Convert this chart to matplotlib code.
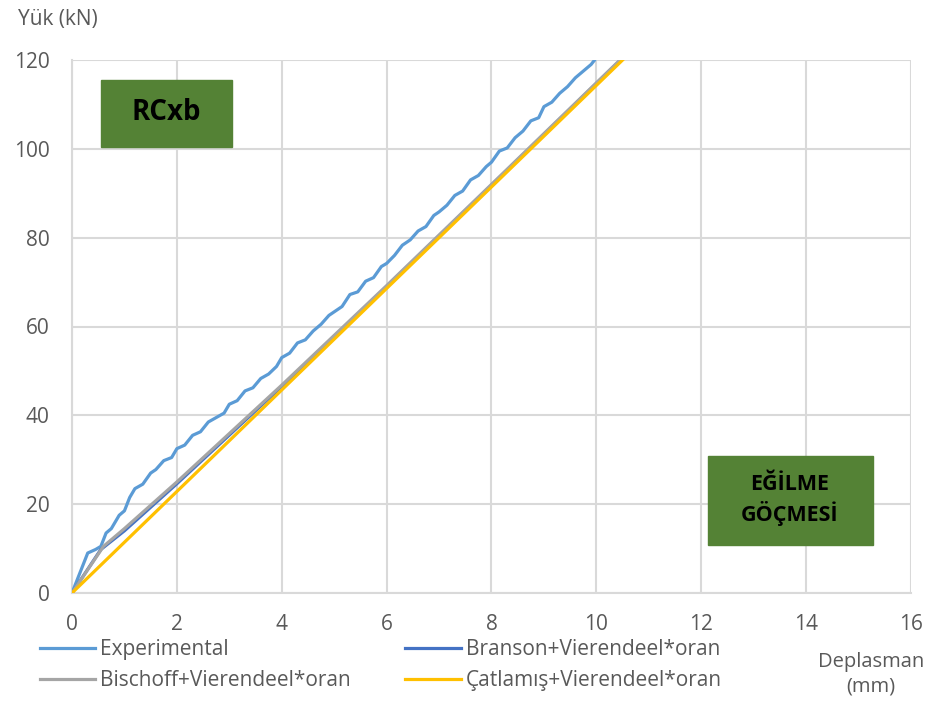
#!/usr/bin/env python3
"""Load-displacement curves for RCxb (experimental vs. stiffness models)."""

import matplotlib.pyplot as plt

# Experimental curve (displacement mm, load kN)
exp_x = [0.0, 0.15, 0.3, 0.45, 0.55, 0.65, 0.75, 0.9, 1.0, 1.1, 1.2, 1.35, 1.5, 1.6,
         1.75, 1.9, 2.0, 2.15, 2.3, 2.45, 2.6, 2.75, 2.9, 3.0, 3.15, 3.3, 3.45, 3.6,
         3.75, 3.9, 4.0, 4.15, 4.3, 4.45, 4.6, 4.75, 4.9, 5.0, 5.15, 5.3, 5.45, 5.6,
         5.75, 5.9, 6.0, 6.15, 6.3, 6.45, 6.6, 6.75, 6.9, 7.0, 7.15, 7.3, 7.45, 7.6,
         7.75, 7.9, 8.0, 8.15, 8.3, 8.45, 8.6, 8.75, 8.9, 9.0, 9.15, 9.3, 9.45, 9.6,
         9.75, 9.9, 10.0]
exp_y = [0.0, 4.5, 9.0, 9.8, 10.5, 13.5, 14.5, 17.5, 18.5, 21.5, 23.5, 24.5, 27.0,
         27.8, 29.8, 30.5, 32.5, 33.3, 35.5, 36.3, 38.5, 39.5, 40.5, 42.5, 43.3, 45.5,
         46.2, 48.3, 49.3, 51.0, 53.0, 54.0, 56.3, 57.0, 59.0, 60.5, 62.5, 63.3, 64.5,
         67.2, 67.8, 70.2, 71.0, 73.5, 74.2, 76.0, 78.3, 79.5, 81.5, 82.5, 85.0, 85.8,
         87.3, 89.5, 90.5, 93.0, 94.0, 96.0, 97.0, 99.5, 100.2, 102.5, 104.0, 106.3,
         107.0, 109.5, 110.5, 112.5, 114.0, 116.0, 117.5, 119.0, 120.5]

branson_x = [0.0, 0.55, 1.0, 2.0, 4.0, 6.0, 8.0, 10.46]
branson_y = [0.0, 9.8, 14.0, 24.6, 46.5, 69.0, 91.8, 120.0]

bischoff_x = [0.0, 0.6, 1.0, 2.0, 4.0, 6.0, 8.0, 10.45]
bischoff_y = [0.0, 10.5, 14.5, 25.0, 46.8, 69.2, 92.0, 120.0]

catlamis_x = [0.0, 10.5]
catlamis_y = [0.0, 120.0]

x_ticks = list(range(0, 17, 2))
y_ticks = list(range(0, 121, 20))

TEXT_GRAY = "#595959"
GRID_GRAY = "#d9d9d9"
FS = 15


def main() -> None:
    plt.rcParams["font.family"] = ["Open Sans", "DejaVu Sans"]

    fig = plt.figure(figsize=(9.29, 7.03), dpi=100)
    ax = fig.add_axes([72 / 929, 1 - 593 / 703, (911 - 72) / 929, (593 - 60) / 703])

    ax.plot(exp_x, exp_y, color="#5B9BD5", lw=2.3, label="Experimental", zorder=3)
    ax.plot(branson_x, branson_y, color="#4472C4", lw=2.3,
            label="Branson+Vierendeel*oran", zorder=4)
    ax.plot(bischoff_x, bischoff_y, color="#A5A5A5", lw=2.3,
            label="Bischoff+Vierendeel*oran", zorder=5)
    ax.plot(catlamis_x, catlamis_y, color="#FFC000", lw=2.3,
            label="Çatlamış+Vierendeel*oran", zorder=6)

    ax.set_xlim(0, 16)
    ax.set_ylim(0, 120)
    ax.set_xticks(x_ticks)
    ax.set_yticks(y_ticks)
    ax.tick_params(length=0, labelsize=FS, labelcolor=TEXT_GRAY)
    ax.tick_params(axis="x", pad=15)
    ax.tick_params(axis="y", pad=16)
    ax.grid(True, color=GRID_GRAY, lw=1.5)
    ax.set_axisbelow(True)
    for side in ["top", "right"]:
        ax.spines[side].set_visible(False)
    for side in ["left", "bottom"]:
        ax.spines[side].set_color(GRID_GRAY)
        ax.spines[side].set_linewidth(1.5)

    # axis titles placed like the spreadsheet chart
    fig.text(18 / 929, 1 - 20 / 703, "Yük (kN)", fontsize=FS, color=TEXT_GRAY,
             ha="left", va="center")
    fig.text(871 / 929, 1 - 674 / 703, "Deplasman\n(mm)", fontsize=14.5,
             color=TEXT_GRAY, ha="center", va="center", linespacing=1.3)

    # green annotation boxes
    fig.patches.append(plt.Rectangle((101 / 929, 1 - 147 / 703), 131 / 929, 67 / 703,
                                     transform=fig.transFigure, color="#548235",
                                     zorder=10))
    fig.text(166 / 929, 1 - 113 / 703, "RCxb", fontsize=20, fontweight="bold",
             ha="center", va="center", zorder=11)
    fig.patches.append(plt.Rectangle((708 / 929, 1 - 545 / 703), 165 / 929, 89 / 703,
                                     transform=fig.transFigure, color="#548235",
                                     zorder=10))
    fig.text(790 / 929, 1 - 500 / 703, "EĞİLME\nGÖÇMESİ", fontsize=15.5,
             fontweight="bold", ha="center", va="center", linespacing=1.3, zorder=11)

    handles, labels = ax.get_legend_handles_labels()
    order = [0, 2, 1, 3]
    fig.legend([handles[i] for i in order], [labels[i] for i in order],
               loc="upper left", bbox_to_anchor=(40 / 929, 1 - 639 / 703), ncol=2,
               frameon=False, fontsize=FS, labelcolor=TEXT_GRAY, handlelength=2.65,
               handletextpad=0.25, columnspacing=2.6, labelspacing=0.5,
               borderpad=0, borderaxespad=0)

    fig.savefig("out.png", dpi=100)


if __name__ == "__main__":
    main()
